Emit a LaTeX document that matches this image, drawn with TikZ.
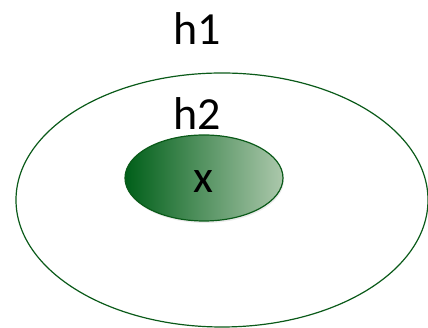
\documentclass[tikz,border=0pt]{standalone}
\usepackage{fontspec}
\setmainfont{Carlito}
\usepackage{xcolor}
\usetikzlibrary{shapes.geometric,shadows}

\definecolor{setline}{RGB}{10,90,25}
\definecolor{setdark}{RGB}{0,95,25}
\definecolor{setlight}{RGB}{172,200,172}

\begin{document}
\begin{tikzpicture}[x=1pt,y=1pt]
      \tikzstyle{outerset} = [ellipse, draw=setline, line width=1.2pt, minimum width=412pt, minimum height=254pt, inner sep=0pt]
      \tikzstyle{innerset} = [ellipse, draw=setline, line width=1.2pt, minimum width=158pt, minimum height=86pt, inner sep=0pt, left color=setdark, right color=setlight, drop shadow={opacity=0.15, shadow xshift=1pt, shadow yshift=-2pt}]
      \tikzstyle{label} = [font=\fontsize{46}{54}\selectfont, anchor=base, inner sep=0pt]

      \useasboundingbox (0,0) rectangle (428,328);

      \node (hone) [outerset] at (222,128) {};
      \node (htwo) [innerset] at (204,150) {};

      \node (honetext) [label] at (197,283) {h1};
      \node (htwotext) [label] at (197,198) {h2};
      \node (xtext) [label] at (203,135) {x};
    \end{tikzpicture}
\end{document}
